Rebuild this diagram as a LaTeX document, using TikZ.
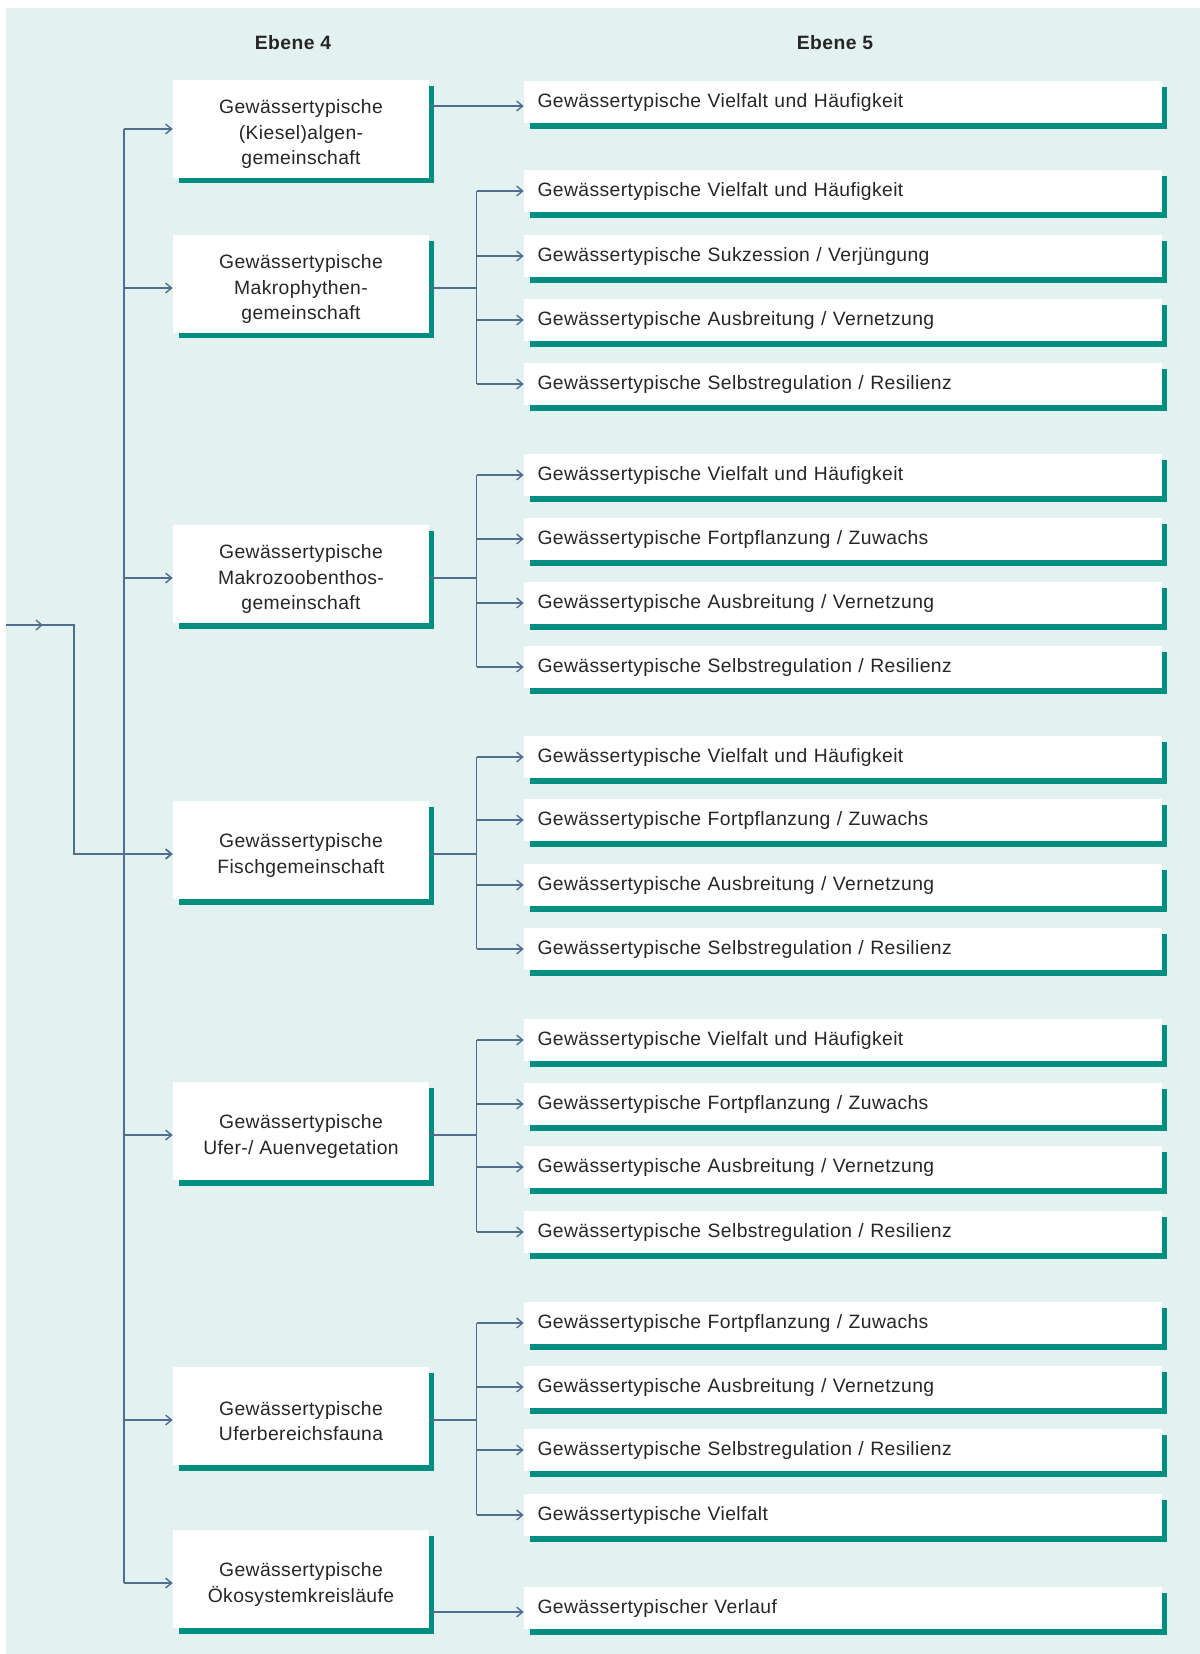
\documentclass[tikz,border=0pt]{standalone}
\usepackage{fontspec}
\setmainfont[LetterSpace=2]{Liberation Sans}
\usetikzlibrary{arrows.meta,shadows}
\definecolor{grund}{RGB}{227,242,241}
\definecolor{linie}{RGB}{80,110,143}
\definecolor{petrol}{RGB}{0,142,128}
\definecolor{schrift}{RGB}{40,38,36}
\newcommand{\oben}{\rule{0pt}{14pt}}
\tikzset{
  link/.style={draw=linie,line width=0.8pt},
  pfeil/.style={link,-{Straight Barb[length=3.4pt,width=5.6pt]}},
  kasten/.style={fill=white,text=schrift,font=\fontsize{11}{14.5}\selectfont,
    general shadow={fill=petrol,shadow xshift=0.11cm,shadow yshift=-0.11cm}},
  ebenevier/.style={kasten,minimum width=5.12cm,minimum height=1.96cm,align=center,inner sep=0pt},
  ebenefuenf/.style={kasten,minimum width=12.76cm,minimum height=0.84cm,text width=12.22cm,
    align=left,inner xsep=0.27cm,inner ysep=0pt},
  kopf/.style={text=schrift,font=\bfseries\fontsize{11}{13}\selectfont},
  tief/.style={yshift=-0.08cm}
}
\newcommand{\verteiler}[3]{
  \draw[link] (#1-o) -- (ast |- #1-o);
  \draw[link] (ast |- #2.west) -- (ast |- #3.west);
}

\begin{document}
\begin{tikzpicture}[x=0.02cm,y=-0.02cm]
\useasboundingbox (0,0) rectangle (1200,1654);
\fill[grund] (6,8) rectangle (1200,1654);
\node[kopf] (e4) at (293,43) {Ebene 4};
\node[kopf] (e5) at (835,43) {Ebene 5};
\foreach \n/\y/\t in {k1/129/{Gewässertypische\\(Kiesel)algen-\\gemeinschaft},
    k2/284/{Gewässertypische\\Makrophythen-\\gemeinschaft},
    k3/574/{Gewässertypische\\Makrozoobenthos-\\gemeinschaft},
    k4/850/{Gewässertypische\\Fischgemeinschaft},
    k5/1131/{Gewässertypische\\Ufer-/ Auenvegetation},
    k6/1416/{Gewässertypische\\Uferbereichsfauna},
    k7/1579/{Gewässertypische\\Ökosystemkreisläufe}}{
  \node[ebenevier] (\n) at (301,\y) {\oben\t};
  \coordinate (\n-w) at ([tief]\n.west);
  \coordinate (\n-o) at ([tief]\n.east);
}
\foreach \n/\y/\t in {g11/102/{Gewässertypische Vielfalt und Häufigkeit},
    g21/191/{Gewässertypische Vielfalt und Häufigkeit},
    g22/256/{Gewässertypische Sukzession / Verjüngung},
    g23/320/{Gewässertypische Ausbreitung / Vernetzung},
    g24/384/{Gewässertypische Selbstregulation / Resilienz},
    g31/475/{Gewässertypische Vielfalt und Häufigkeit},
    g32/539/{Gewässertypische Fortpflanzung / Zuwachs},
    g33/603/{Gewässertypische Ausbreitung / Vernetzung},
    g34/667/{Gewässertypische Selbstregulation / Resilienz},
    g41/757/{Gewässertypische Vielfalt und Häufigkeit},
    g42/820/{Gewässertypische Fortpflanzung / Zuwachs},
    g43/885/{Gewässertypische Ausbreitung / Vernetzung},
    g44/949/{Gewässertypische Selbstregulation / Resilienz},
    g51/1040/{Gewässertypische Vielfalt und Häufigkeit},
    g52/1104/{Gewässertypische Fortpflanzung / Zuwachs},
    g53/1167/{Gewässertypische Ausbreitung / Vernetzung},
    g54/1232/{Gewässertypische Selbstregulation / Resilienz},
    g61/1323/{Gewässertypische Fortpflanzung / Zuwachs},
    g62/1387/{Gewässertypische Ausbreitung / Vernetzung},
    g63/1450/{Gewässertypische Selbstregulation / Resilienz},
    g64/1515/{Gewässertypische Vielfalt},
    g71/1608/{Gewässertypischer Verlauf}}
  \node[ebenefuenf] (\n) at (843,\y) {\t};
\coordinate (ein) at (6,625);
\coordinate (knick) at (74,625);
\coordinate (stamm) at (124,0);
\coordinate (ast) at (476.5,0);
\draw[pfeil] (ein) -- (43,625);
\draw[pfeil] (ein) -- (knick) |- (k4-w);
\draw[link] (stamm |- k1.west) -- (stamm |- k7-w);
\foreach \k in {k2,k3,k4,k5,k6,k7}
  \draw[pfeil] (stamm |- \k-w) -- (\k-w);
\draw[pfeil] (stamm |- k1.west) -- (k1.west);
\draw[pfeil] ([tief]k1.east |- g11.west) -- ([tief]g11.west);
\draw[pfeil] ([tief]k7.east |- g71.west) -- ([tief]g71.west);
\verteiler{k2}{g21}{g24}
\verteiler{k3}{g31}{g34}
\verteiler{k4}{g41}{g44}
\verteiler{k5}{g51}{g54}
\verteiler{k6}{g61}{g64}
\foreach \n in {g21,g22,g23,g24,g31,g32,g33,g34,g41,g42,g43,g44,g51,g52,g53,g54,g61,g62,g63,g64}
  \draw[pfeil] (ast |- \n.west) -- (\n.west);
\end{tikzpicture}
\end{document}
